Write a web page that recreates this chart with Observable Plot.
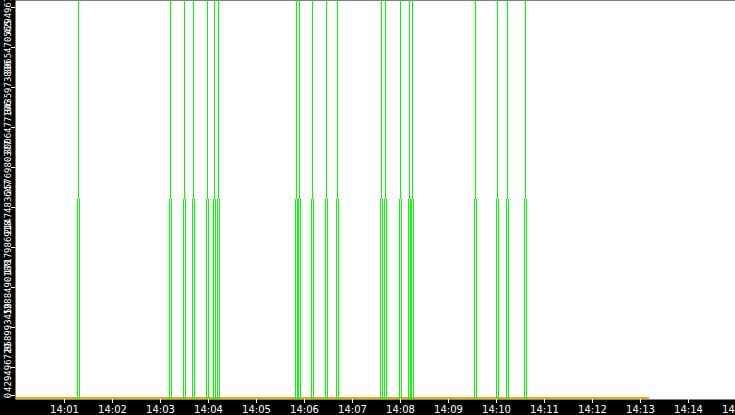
<!DOCTYPE html>
<html><head><meta charset="utf-8">
<script src="https://cdn.jsdelivr.net/npm/d3@7"></script>
<script src="https://cdn.jsdelivr.net/npm/@observablehq/plot@0.6"></script>
<style>html,body{margin:0;padding:0;background:#fff;overflow:hidden}</style>
</head><body><div id="chart"></div>
<script>
// ---- data ----
// event times (centre of each pulse / spike)
const eventTimes = ["14:01:17.5","14:03:12.5","14:03:30","14:03:41.25","14:03:58.75","14:04:07.5","14:04:12.5","14:05:50","14:05:53.75","14:06:10","14:06:27.5","14:06:41.25","14:07:36.25","14:07:41.25","14:08:00","14:08:11.25","14:08:15","14:09:33.75","14:10:01.25","14:10:13.75","14:10:36.25"];
const pulseHalfWidthSec = 1.25;
const pulseValue = 2147483647;
const peakValue = 4294967295;
const orangeTimes = ["14:00:00","14:13:10"];
const orangeValues = [0, 0];
const xTickTimes = ["14:01","14:02","14:03","14:04","14:05","14:06","14:07","14:08","14:09","14:10","14:11","14:12","14:13","14:14","14:15"];
const yTicks = [0,429496729,858993459,1288490188,1717986918,2147483647,2576980377,3006477106,3435973836,3865470565,4294967295];
const xDomain = ["14:00:00","14:15:00"];

// ---- helpers ----
function t(s) {
  const p = s.split(":").map(Number);
  return new Date(Date.UTC(2024, 0, 1, p[0], p[1], 0) + (p[2] || 0) * 1000);
}
const pulseEdges = [];
for (const s of eventTimes) {
  const c = t(s).getTime();
  pulseEdges.push(new Date(c - pulseHalfWidthSec * 1000), new Date(c + pulseHalfWidthSec * 1000));
}
const peaks = eventTimes.map(t);
const orange = orangeTimes.map((s, i) => ({x: t(s), y: orangeValues[i]}));
const green = "#00ff00";

const chart = Plot.plot({
  width: 735, height: 415,
  marginLeft: 15, marginRight: 0, marginTop: 0, marginBottom: 16,
  style: {background: "black", color: "white", fontFamily: "DejaVu Sans"},
  x: {type: "utc", domain: xDomain.map(t), range: [16, 736], label: null},
  y: {domain: [0, peakValue], range: [399, -1], label: null},
  marks: [
    Plot.frame({fill: "white", stroke: "none"}),
    Plot.lineY(orange, {x: "x", y: "y", stroke: "#ffa500", strokeWidth: 2, dy: -1.5}),
    Plot.ruleX(pulseEdges, {x: d => d, y1: 0, y2: pulseValue, stroke: green, shapeRendering: "crispEdges"}),
    Plot.ruleX(peaks, {x: d => d, y1: pulseValue, y2: peakValue, stroke: green, shapeRendering: "crispEdges"}),
    Plot.axisX({ticks: xTickTimes.map(t), tickFormat: "%H:%M", tickSize: 4, tickPadding: 2, fontSize: 10, color: "white", label: null}),
    Plot.axisY({ticks: yTicks.slice(1), tickFormat: d => String(d), tickRotate: -90, tickSize: 4, tickPadding: 1, fontSize: 9, fontFamily: "DejaVu Sans Mono", color: "white", dy: 8, label: null}),
    Plot.axisY({ticks: yTicks.slice(0, 1), tickFormat: d => String(d), tickRotate: -90, tickSize: 4, tickPadding: 1, fontSize: 9, fontFamily: "DejaVu Sans Mono", color: "white", dy: -4, label: null})
  ]
});
document.getElementById("chart").appendChild(chart);
</script>
</body></html>
